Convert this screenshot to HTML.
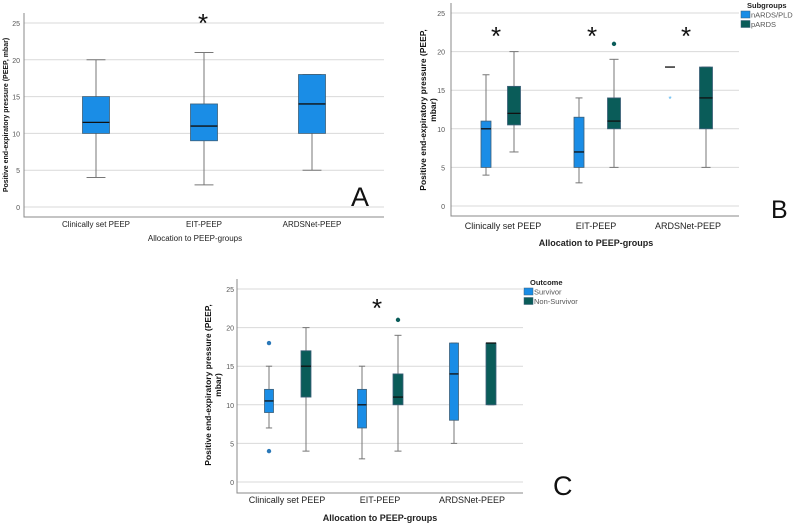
<!DOCTYPE html>
<html><head><meta charset="utf-8"><style>
html,body{margin:0;padding:0;background:#fff;width:798px;height:524px;overflow:hidden}
svg{display:block;font-family:"Liberation Sans",sans-serif}
</style></head><body>
<svg id="fig" width="798" height="524" viewBox="0 0 798 524" xmlns="http://www.w3.org/2000/svg"></svg>
<script>
// categories
const categories = ["Clinically set PEEP", "EIT-PEEP", "ARDSNet-PEEP"];
const yTicks = [0, 5, 10, 15, 20, 25];
// Panel A: [min, q1, median, q3, max]
const panelA = [[4,10,11.5,15,20],[3,9,11,14,21],[5,10,14,18,18]];
// Panel B subgroups
const panelBBlue = [[4,5,10,11,17],[3,5,7,11.5,14],[18,18,18,18,18]];
const panelBGreen = [[7,10.5,12,15.5,20],[5,10,11,14,19],[5,10,14,18,18]];
const panelBBlueOut = [[],[],[14]];
const panelBGreenOut = [[],[21],[]];
// Panel C outcome
const panelCBlue = [[7,9,10.5,12,15],[3,7,10,12,15],[5,8,14,18,18]];
const panelCGreen = [[4,11,15,17,20],[4,10,11,14,19],[10,10,18,18,18]];
const panelCBlueOut = [[18,4],[],[]];
const panelCGreenOut = [[],[21],[]];

const BLUE="#1a8de6", GREEN="#0a5c59";
const svg=document.getElementById('fig');
const NS="http://www.w3.org/2000/svg";
function mk(tag,attrs,parent,text){
  const e=document.createElementNS(NS,tag);
  for(const k in attrs)e.setAttribute(k,attrs[k]);
  if(text!==undefined)e.textContent=text;
  (parent||svg).appendChild(e);return e;
}

function panel(cfg){
  const g=mk('g',{});
  
  
  const y=v=>cfg.y0+(cfg.y25-cfg.y0)*v/25;
  yTicks.forEach(t=>{
    const l=mk('line',{x1:cfg.ax,x2:cfg.right,y1:y(t),y2:y(t),stroke:'#d9d9d9','stroke-width':1},g);
    
    
    const tx=mk('text',{x:cfg.ax-cfg.tickGap,y:y(t)+3,'font-size':7,fill:'#555','text-anchor':'end'},g,t);
    
    
  });
  const ax=mk('path',{d:`M${cfg.ax},${cfg.top} V${cfg.bottom} H${cfg.right}`,stroke:'#888',fill:'none','stroke-width':1},g);
  
  
  categories.forEach((c,i)=>{
    const t=mk('text',{x:cfg.catX[i],y:cfg.catY,'font-size':cfg.catFs,fill:'#222','text-anchor':'middle'},g,c);
    
    
  });
  const xt=mk('text',{x:cfg.xtX,y:cfg.xtY,'font-size':cfg.xtFs,'font-weight':cfg.xtBold?'bold':'normal',fill:'#222','text-anchor':'middle'},g,'Allocation to PEEP-groups');
  
  
  const yt=mk('text',{transform:`translate(${cfg.ytX},${cfg.ytY}) rotate(-90)`,'font-size':cfg.ytFs,'font-weight':'bold',fill:'#111','text-anchor':'middle'},g);
  
  
  cfg.ytLines.forEach((ln,i)=>mk('tspan',{x:0,dy:i?cfg.ytFs+1.5:0},yt,ln));
  cfg.series.forEach(s=>{
    s.data.forEach((d,i)=>{
      const cx=s.x[i], w=s.w;
      const bg=mk('g',{},g);
      
      
      mk('line',{x1:cx,x2:cx,y1:y(d[0]),y2:y(d[4]),stroke:'#777','stroke-width':1},bg);
      mk('line',{x1:cx-w*0.35,x2:cx+w*0.35,y1:y(d[0]),y2:y(d[0]),stroke:'#777','stroke-width':1},bg);
      mk('line',{x1:cx-w*0.35,x2:cx+w*0.35,y1:y(d[4]),y2:y(d[4]),stroke:'#777','stroke-width':1},bg);
      if(d[3]>d[1]) mk('rect',{x:cx-w/2,y:y(d[3]),width:w,height:y(d[1])-y(d[3]),fill:s.color,stroke:'#3d5f78','stroke-width':0.8},bg);
      mk('line',{x1:cx-w/2,x2:cx+w/2,y1:y(d[2]),y2:y(d[2]),stroke:'#111','stroke-width':1.3},bg);
    });
    (s.out||[]).forEach((arr,i)=>arr.forEach(v=>{
      let o;
      if(s.star) o=mk('text',{x:s.x[i],y:y(v)+4,'font-size':8,fill:'#4ab0f0','text-anchor':'middle'},g,'*');
      else o=mk('circle',{cx:s.x[i],cy:y(v),r:2.2,fill:s.outColor||s.color},g);
      
      
    }));
  });
  cfg.stars.forEach(st=>{
    const t=mk('text',{x:st[0],y:st[1]+12,'font-size':26,fill:'#111','text-anchor':'middle'},g,'*');
    
    
  });
  const L=mk('text',{x:cfg.letter[0],y:cfg.letter[1],'font-size':cfg.letter[2],fill:'#111'},g,cfg.letter[3]);
  
  
  if(cfg.legend){
    const lg=mk('g',{},g);
    
    
    const [lx,ly,title,a,b]=cfg.legend;
    mk('text',{x:lx+6,y:ly,'font-size':7.5,'font-weight':'bold',fill:'#222'},lg,title);
    [[a,BLUE],[b,GREEN]].forEach((e,i)=>{
      const eg=mk('g',{},lg);
      
      
      mk('rect',{x:lx,y:ly+3+i*9.5,width:9,height:7,fill:e[1],stroke:'#3d5f78','stroke-width':0.5},eg);
      mk('text',{x:lx+10,y:ly+9.5+i*9.5,'font-size':7.5,fill:'#555'},eg,e[0]);
    });
  }
}

panel({name:'panel-a',ax:24,right:384,top:13,bottom:217,y0:207,y25:23,tickGap:4,
  catX:[96,204,312],catY:227,catFs:8,xtX:195,xtY:241,xtFs:8,xtBold:false,
  ytX:8,ytY:115,ytFs:7,ytLines:['Positive end-expiratory pressure (PEEP, mbar)'],
  series:[{label:'all',data:panelA,x:[96,204,312],w:27,color:BLUE}],
  stars:[[203,20]],letter:[351,206,27,'A']});

panel({name:'panel-b',ax:451,right:739,top:3,bottom:216,y0:206,y25:13,tickGap:6,
  catX:[503,596,688],catY:229,catFs:9,xtX:596,xtY:246,xtFs:9,xtBold:true,
  ytX:426,ytY:110,ytFs:8.5,ytLines:['Positive end-expiratory pressure (PEEP,','mbar)'],
  series:[{label:'nards',data:panelBBlue,x:[486,579,670],w:10,color:BLUE,out:panelBBlueOut,star:true},
          {label:'pards',data:panelBGreen,x:[514,614,706],w:13,color:GREEN,out:panelBGreenOut}],
  stars:[[496,33],[592,33],[686,33]],letter:[771,218,25,'B'],
  legend:[741,8,'Subgroups','nARDS/PLD','pARDS']});

panel({name:'panel-c',ax:237,right:523,top:279,bottom:493,y0:482,y25:289,tickGap:3,
  catX:[287,380,472],catY:503,catFs:9,xtX:380,xtY:521,xtFs:9,xtBold:true,
  ytX:211,ytY:385,ytFs:8.5,ytLines:['Positive end-expiratory pressure (PEEP,','mbar)'],
  series:[{label:'survivor',data:panelCBlue,x:[269,362,454],w:9,color:BLUE,out:panelCBlueOut,outColor:'#2a78b8'},
          {label:'nonsurvivor',data:panelCGreen,x:[306,398,491],w:10,color:GREEN,out:panelCGreenOut}],
  stars:[[377,305]],letter:[553,495,27,'C'],
  legend:[524,285,'Outcome','Survivor','Non-Survivor']});
</script>
</body></html>
